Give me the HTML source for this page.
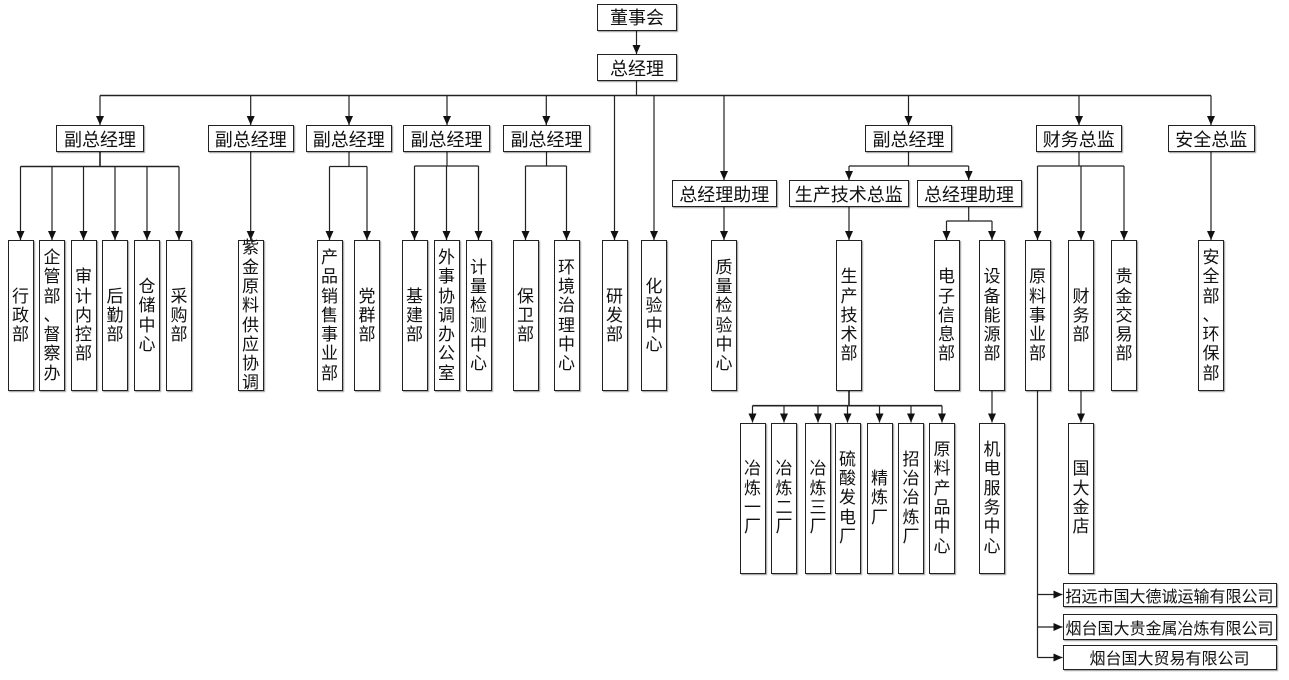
<!DOCTYPE html>
<html><head><meta charset="utf-8">
<style>
html,body{margin:0;padding:0;background:#fff;}
#c{position:relative;width:1289px;height:680px;overflow:hidden;background:#fff;}
svg{position:absolute;left:0;top:0;}
.b{position:absolute;box-sizing:border-box;border:1.3px solid #222;background:#fff;box-shadow:1px 1px 1px rgba(0,0,0,.4);display:flex;align-items:center;justify-content:center;text-align:center;font-family:"Liberation Sans","Noto Sans CJK SC",sans-serif;color:#111;white-space:nowrap;}
.h{font-size:18px;height:27px;top:125px;}
.v{font-size:17px;line-height:19.3px;top:240px;height:151px;width:26px;white-space:normal;}
.v span{display:block;width:17px;word-break:break-all;line-break:anywhere;}
.w{top:422.5px;}
.co{font-size:16px;left:1062.5px;width:214px;}
</style></head><body><div id="c">
<svg width="1289" height="680" viewBox="0 0 1289 680">
<defs><marker id="a" markerWidth="10" markerHeight="10" refX="9" refY="4" orient="auto" markerUnits="userSpaceOnUse"><path d="M0,0 L9,4 L0,8 z" fill="#111"/></marker></defs>
<g stroke="#222" stroke-width="1.2" fill="none">
<path d="M636.5 30.5 V54" marker-end="url(#a)"/>
<path d="M636.5 81 V95.5"/>
<path d="M100 95.5 H1211" stroke-width="1.6"/>
<path d="M100 95.5 V125" marker-end="url(#a)"/>
<path d="M250.7 95.5 V125" marker-end="url(#a)"/>
<path d="M349 95.5 V125" marker-end="url(#a)"/>
<path d="M447 95.5 V125" marker-end="url(#a)"/>
<path d="M546.3 95.5 V125" marker-end="url(#a)"/>
<path d="M614.5 95.5 V240" marker-end="url(#a)"/>
<path d="M654 95.5 V240" marker-end="url(#a)"/>
<path d="M724 95.5 V180" marker-end="url(#a)"/>
<path d="M908.5 95.5 V125" marker-end="url(#a)"/>
<path d="M1079 95.5 V125" marker-end="url(#a)"/>
<path d="M1211 95.5 V125" marker-end="url(#a)"/>
<!-- left group -->
<path d="M100 152 V166.5" stroke-width="1.6"/>
<path d="M20.5 166.5 H179" stroke-width="1.6"/>
<path d="M20.5 166.5 V240" marker-end="url(#a)"/>
<path d="M52 166.5 V240" marker-end="url(#a)"/>
<path d="M83.5 166.5 V240" marker-end="url(#a)"/>
<path d="M115 166.5 V240" marker-end="url(#a)"/>
<path d="M147 166.5 V240" marker-end="url(#a)"/>
<path d="M179 166.5 V240" marker-end="url(#a)"/>
<path d="M250.7 152 V240" marker-end="url(#a)"/>
<path d="M349 152 V166.5 M329.5 166.5 H367"/>
<path d="M329.5 166.5 V240" marker-end="url(#a)"/>
<path d="M367 166.5 V240" marker-end="url(#a)"/>
<path d="M447 152 V166 M414.5 166 H478.5"/>
<path d="M414.5 166 V240" marker-end="url(#a)"/>
<path d="M446.5 166 V240" marker-end="url(#a)"/>
<path d="M478.5 166 V240" marker-end="url(#a)"/>
<path d="M546.5 152 V166 M525.5 166 H566.5"/>
<path d="M525.5 166 V240" marker-end="url(#a)"/>
<path d="M566.5 166 V240" marker-end="url(#a)"/>
<path d="M724 207 V240" marker-end="url(#a)"/>
<!-- right -->
<path d="M908.5 152 V166 M849 166 H968.7"/>
<path d="M849 166 V180" marker-end="url(#a)"/>
<path d="M968.7 166 V180" marker-end="url(#a)"/>
<path d="M849 207 V240" marker-end="url(#a)"/>
<path d="M968.7 207 V221 M946.5 221 H992"/>
<path d="M946.5 221 V240" marker-end="url(#a)"/>
<path d="M992 221 V240" marker-end="url(#a)"/>
<path d="M1079 152 V166 M1037.5 166 H1124"/>
<path d="M1037.5 166 V240" marker-end="url(#a)"/>
<path d="M1081 166 V240" marker-end="url(#a)"/>
<path d="M1124 166 V240" marker-end="url(#a)"/>
<path d="M1211 152 V240" marker-end="url(#a)"/>
<!-- bottom -->
<path d="M849 391 V405.7" stroke-width="1.6"/>
<path d="M752.5 405.7 H942" stroke-width="1.6"/>
<path d="M752.5 405.7 V422.5" marker-end="url(#a)"/>
<path d="M784 405.7 V422.5" marker-end="url(#a)"/>
<path d="M818 405.7 V422.5" marker-end="url(#a)"/>
<path d="M847.5 405.7 V422.5" marker-end="url(#a)"/>
<path d="M879.5 405.7 V422.5" marker-end="url(#a)"/>
<path d="M911 405.7 V422.5" marker-end="url(#a)"/>
<path d="M942 405.7 V422.5" marker-end="url(#a)"/>
<path d="M992 391 V422.5" marker-end="url(#a)"/>
<path d="M1081 391 V422.5" marker-end="url(#a)"/>
<path d="M1037.5 391 V657.5"/>
<path d="M1037.5 594.5 H1062.5" marker-end="url(#a)"/>
<path d="M1037.5 627 H1062.5" marker-end="url(#a)"/>
<path d="M1037.5 657.5 H1062.5" marker-end="url(#a)"/>
</g>
</svg>

<div class="b h" style="left:597px;top:3.5px;width:80px;">董事会</div>
<div class="b h" style="left:597px;top:54px;width:80px;">总经理</div>
<div class="b h" style="left:56px;width:88px;">副总经理</div>
<div class="b h" style="left:207.5px;width:86.5px;">副总经理</div>
<div class="b h" style="left:305.5px;width:86.5px;">副总经理</div>
<div class="b h" style="left:403px;width:87px;">副总经理</div>
<div class="b h" style="left:503px;width:87px;">副总经理</div>
<div class="b h" style="left:671.5px;top:180px;width:105.5px;">总经理助理</div>
<div class="b h" style="left:865px;width:87px;">副总经理</div>
<div class="b h" style="left:1035.5px;width:86.5px;">财务总监</div>
<div class="b h" style="left:1168px;width:86.5px;">安全总监</div>
<div class="b h" style="left:788.5px;top:180px;width:120.5px;">生产技术总监</div>
<div class="b h" style="left:916.5px;top:180px;width:105px;">总经理助理</div>

<div class="b v" style="left:7.5px;"><span>行政部</span></div>
<div class="b v" style="left:39px;"><span>企管部<br>、<br>督察办</span></div>
<div class="b v" style="left:70.5px;"><span>审计内控部</span></div>
<div class="b v" style="left:102px;"><span>后勤部</span></div>
<div class="b v" style="left:134px;"><span>仓储中心</span></div>
<div class="b v" style="left:166px;"><span>采购部</span></div>
<div class="b v" style="left:237.5px;"><span>紫金原料供应协调</span></div>
<div class="b v" style="left:316.5px;"><span>产品销售事业部</span></div>
<div class="b v" style="left:354px;"><span>党群部</span></div>
<div class="b v" style="left:401.5px;"><span>基建部</span></div>
<div class="b v" style="left:433.5px;"><span>外事协调办公室</span></div>
<div class="b v" style="left:465.5px;"><span>计量检测中心</span></div>
<div class="b v" style="left:512.5px;"><span>保卫部</span></div>
<div class="b v" style="left:553.5px;"><span>环境治理中心</span></div>
<div class="b v" style="left:601.5px;"><span>研发部</span></div>
<div class="b v" style="left:641px;"><span>化验中心</span></div>
<div class="b v" style="left:711px;"><span>质量检验中心</span></div>
<div class="b v" style="left:836px;"><span>生产技术部</span></div>
<div class="b v" style="left:933.5px;"><span>电子信息部</span></div>
<div class="b v" style="left:979px;"><span>设备能源部</span></div>
<div class="b v" style="left:1024.5px;"><span>原料事业部</span></div>
<div class="b v" style="left:1068px;"><span>财务部</span></div>
<div class="b v" style="left:1111px;"><span>贵金交易部</span></div>
<div class="b v" style="left:1198px;"><span>安全部<br>、<br>环保部</span></div>

<div class="b v w" style="left:739.5px;"><span>冶炼一厂</span></div>
<div class="b v w" style="left:771px;"><span>冶炼二厂</span></div>
<div class="b v w" style="left:805px;"><span>冶炼三厂</span></div>
<div class="b v w" style="left:834.5px;"><span>硫酸发电厂</span></div>
<div class="b v w" style="left:866.5px;"><span>精炼厂</span></div>
<div class="b v w" style="left:898px;"><span>招冶冶炼厂</span></div>
<div class="b v w" style="left:929px;"><span>原料产品中心</span></div>
<div class="b v w" style="left:979px;"><span>机电服务中心</span></div>
<div class="b v w" style="left:1068px;"><span>国大金店</span></div>

<div class="b co" style="top:582.5px;height:24px;">招远市国大德诚运输有限公司</div>
<div class="b co" style="top:613.5px;height:26.5px;">烟台国大贵金属冶炼有限公司</div>
<div class="b co" style="top:644.5px;height:25.5px;">烟台国大贸易有限公司</div>
</div></body></html>
